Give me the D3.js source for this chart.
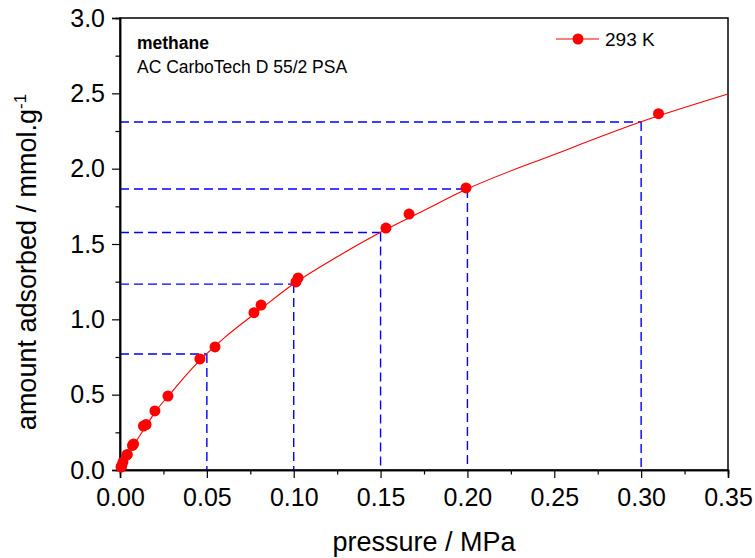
<!DOCTYPE html>
<html>
<head>
<meta charset="utf-8">
<script src="https://cdn.jsdelivr.net/npm/d3@7"></script>
<style>
  body { margin: 0; background: #fff; }
  text { font-family: "Liberation Sans", Arial, sans-serif; }
</style>
</head>
<body>
<script>
// measured points, 293 K
const pressure = [0.0006, 0.001, 0.0017, 0.0038, 0.0042, 0.0072, 0.0078, 0.0135, 0.015, 0.0201,
  0.0276, 0.046, 0.0547, 0.0771, 0.0812, 0.1013, 0.1025, 0.1531, 0.1664, 0.1992, 0.310];
const adsorbed = [0.02, 0.028, 0.053, 0.098, 0.103, 0.163, 0.173, 0.292, 0.302, 0.392,
  0.491, 0.737, 0.817, 1.044, 1.095, 1.248, 1.275, 1.606, 1.699, 1.872, 2.365];

// fitted curve
const fitP = [0, 0.002, 0.005, 0.01, 0.015, 0.02, 0.03, 0.04, 0.05, 0.06, 0.08, 0.1, 0.125, 0.15, 0.175, 0.2, 0.25, 0.3, 0.35];
const fitQ = [0, 0.063, 0.113, 0.202, 0.292, 0.381, 0.52, 0.655, 0.772, 0.877, 1.059, 1.236, 1.415, 1.578, 1.723, 1.866, 2.094, 2.311, 2.495];

// dashed guide lines
const guideP = [0.05, 0.10, 0.15, 0.20, 0.30];
const guideQ = [0.770, 1.234, 1.576, 1.865, 2.310];

const width = 755, height = 558;
const mLeft = 120, mRight = 728, mTop = 18, mBottom = 470;

const svg = d3.select("body").append("svg")
  .attr("width", width)
  .attr("height", height);

const x = d3.scaleLinear().domain([0, 0.35]).range([mLeft, mRight]);
const y = d3.scaleLinear().domain([0, 3.0]).range([mBottom, mTop]);

// frame
svg.append("rect")
  .attr("x", mLeft).attr("y", mTop)
  .attr("width", mRight - mLeft).attr("height", mBottom - mTop)
  .attr("fill", "none").attr("stroke", "#000").attr("stroke-width", 1.5);

// guides
const guides = svg.append("g")
  .attr("stroke", "#0000ff")
  .attr("stroke-width", 1.4)
  .attr("stroke-dasharray", "9,5")
  .attr("fill", "none");
guideP.forEach((p, i) => {
  guides.append("line")
    .attr("x1", x(0)).attr("x2", x(p))
    .attr("y1", y(guideQ[i])).attr("y2", y(guideQ[i]));
  guides.append("line")
    .attr("x1", x(p)).attr("x2", x(p))
    .attr("y1", y(guideQ[i])).attr("y2", y(0));
});

// axes
svg.append("g")
  .attr("transform", `translate(0,${mBottom})`)
  .call(d3.axisBottom(x).tickValues(d3.range(0, 0.351, 0.05)).tickFormat(d3.format(".2f")).tickSize(8).tickPadding(10));
svg.append("g")
  .attr("transform", `translate(0,${mBottom})`)
  .call(d3.axisBottom(x).tickValues(d3.range(0.025, 0.35, 0.05)).tickFormat("").tickSize(4.5));

svg.append("g")
  .attr("transform", `translate(${mLeft},0)`)
  .call(d3.axisLeft(y).tickValues(d3.range(0, 3.01, 0.5)).tickFormat(d3.format(".1f")).tickSize(8).tickPadding(7));
svg.append("g")
  .attr("transform", `translate(${mLeft},0)`)
  .call(d3.axisLeft(y).tickValues(d3.range(0.25, 3, 0.5)).tickFormat("").tickSize(4.5));

svg.selectAll(".domain").attr("stroke-width", 1.5);
svg.selectAll(".tick line").attr("stroke-width", 1.2);
svg.selectAll(".tick text")
  .attr("font-size", 25)
  .attr("font-family", "Liberation Sans, Arial, sans-serif")
  .attr("fill", "#000");

// fit line
const line = d3.line()
  .x((d, i) => x(fitP[i]))
  .y(d => y(d))
  .curve(d3.curveMonotoneX);
svg.append("path")
  .datum(fitQ)
  .attr("d", line)
  .attr("fill", "none")
  .attr("stroke", "#ff0000")
  .attr("stroke-width", 1.1);

// points
svg.append("g")
  .selectAll("circle")
  .data(pressure)
  .enter()
  .append("circle")
  .attr("cx", d => x(d))
  .attr("cy", (d, i) => y(adsorbed[i]))
  .attr("r", 5.5)
  .attr("fill", "#ff0000");

// axis titles
svg.append("text")
  .attr("x", (mLeft + mRight) / 2)
  .attr("y", 551)
  .attr("text-anchor", "middle")
  .attr("font-size", 27)
  .text("pressure / MPa");

const yt = svg.append("text")
  .attr("transform", `translate(36,262) rotate(-90)`)
  .attr("text-anchor", "middle")
  .attr("font-size", 27);
yt.append("tspan").text("amount adsorbed / mmol.g");
yt.append("tspan").attr("dy", -10).attr("font-size", 17).text("-1");

// annotation
svg.append("text")
  .attr("x", 137).attr("y", 49)
  .attr("font-size", 17.5)
  .attr("font-weight", "bold")
  .text("methane");
svg.append("text")
  .attr("x", 137).attr("y", 73)
  .attr("font-size", 17.5)
  .text("AC CarboTech D 55/2 PSA");

// legend
svg.append("line")
  .attr("x1", 556).attr("x2", 599)
  .attr("y1", 39).attr("y2", 39)
  .attr("stroke", "#ff0000").attr("stroke-width", 1.1);
svg.append("circle")
  .attr("cx", 578).attr("cy", 39).attr("r", 5.5)
  .attr("fill", "#ff0000");
svg.append("text")
  .attr("x", 605).attr("y", 46)
  .attr("font-size", 19)
  .text("293 K");
</script>
</body>
</html>
